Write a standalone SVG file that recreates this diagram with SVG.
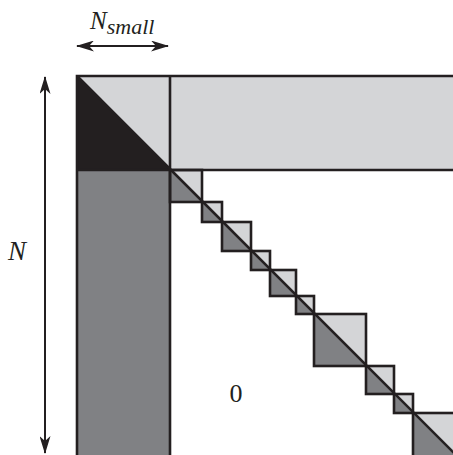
<svg xmlns="http://www.w3.org/2000/svg" width="453" height="455" viewBox="0 0 453 455">
<style>
.ln{stroke:#231f20;stroke-width:2.6;fill:none}
.ar{stroke:#231f20;stroke-width:2;fill:none}
.lt{fill:#d4d5d7}
.dk{fill:#808184}
.bk{fill:#231f20}
.tx{font-family:"Liberation Serif","Times New Roman",serif;font-style:italic;fill:#231f20}
.num{font-family:"Liberation Serif","Times New Roman",serif;fill:#231f20}
</style>
<defs>
<marker id="ah" viewBox="0 0 18 11" refX="17" refY="5.5" markerWidth="18" markerHeight="11" markerUnits="userSpaceOnUse" orient="auto-start-reverse">
<path d="M0,0 L18,5.5 L0,11 L5,5.5 Z" fill="#231f20"/>
</marker>
</defs>
<g id="top-band">
<rect class="lt" x="170" y="76" width="290" height="94"/>
</g>
<g id="left-column">
<rect class="dk" x="77" y="170" width="93" height="290"/>
</g>
<g id="corner-block">
<polygon class="lt" points="77,76 170,76 170,170"/>
<polygon class="bk" points="77,76 170,170 77,170"/>
</g>
<g id="diag-blocks">
<g id="b1"><polygon class="lt" points="170,170 202,170 202,202"/><polygon class="dk" points="170,170 202,202 170,202"/><rect class="ln" x="170" y="170" width="32" height="32"/></g>
<g id="b2"><polygon class="lt" points="202,202 222,202 222,222"/><polygon class="dk" points="202,202 222,222 202,222"/><rect class="ln" x="202" y="202" width="20" height="20"/></g>
<g id="b3"><polygon class="lt" points="222,222 251,222 251,251"/><polygon class="dk" points="222,222 251,251 222,251"/><rect class="ln" x="222" y="222" width="29" height="29"/></g>
<g id="b4"><polygon class="lt" points="251,251 270,251 270,270"/><polygon class="dk" points="251,251 270,270 251,270"/><rect class="ln" x="251" y="251" width="19" height="19"/></g>
<g id="b5"><polygon class="lt" points="270,270 296,270 296,296"/><polygon class="dk" points="270,270 296,296 270,296"/><rect class="ln" x="270" y="270" width="26" height="26"/></g>
<g id="b6"><polygon class="lt" points="296,296 314,296 314,314"/><polygon class="dk" points="296,296 314,314 296,314"/><rect class="ln" x="296" y="296" width="18" height="18"/></g>
<g id="b7"><polygon class="lt" points="314,314 366,314 366,366"/><polygon class="dk" points="314,314 366,366 314,366"/><rect class="ln" x="314" y="314" width="52" height="52"/></g>
<g id="b8"><polygon class="lt" points="366,366 394,366 394,394"/><polygon class="dk" points="366,366 394,394 366,394"/><rect class="ln" x="366" y="366" width="28" height="28"/></g>
<g id="b9"><polygon class="lt" points="394,394 413,394 413,413"/><polygon class="dk" points="394,394 413,413 394,413"/><rect class="ln" x="394" y="394" width="19" height="19"/></g>
<g id="b10"><polygon class="lt" points="413,413 480,413 480,480"/><polygon class="dk" points="413,413 480,480 413,480"/><rect class="ln" x="413" y="413" width="67" height="67"/></g>
</g>
<g id="outlines">
<path class="ln" d="M77,460 V76 H460 M170,76 V460 M77,170 H460"/>
<path class="ln" d="M77,76 L480,479"/>
</g>
<g id="connectors">
<line class="ar" x1="77" y1="46" x2="168" y2="46" marker-start="url(#ah)" marker-end="url(#ah)"/>
<line class="ar" x1="45" y1="77" x2="45" y2="453" marker-start="url(#ah)" marker-end="url(#ah)"/>
</g>
<g id="labels">
<text class="tx" x="90" y="29" font-size="25">N<tspan font-size="22" dy="5">small</tspan></text>
<text class="tx" x="8" y="260" font-size="27">N</text>
<text class="num" x="236" y="402" font-size="26" text-anchor="middle">0</text>
</g>
</svg>
